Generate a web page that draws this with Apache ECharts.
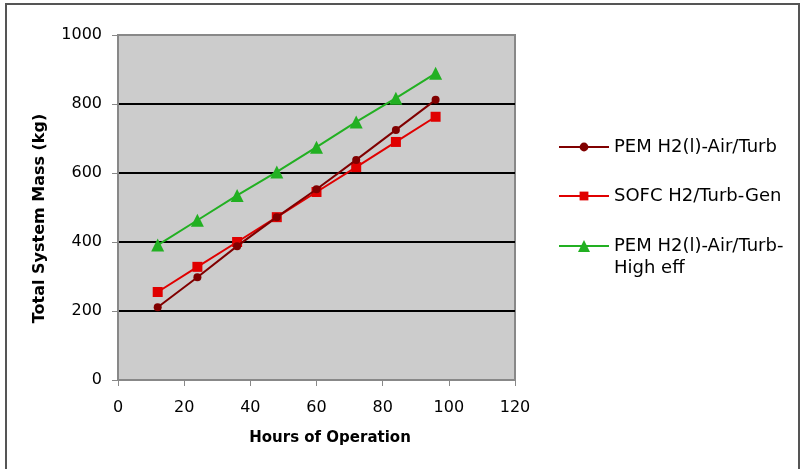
<!DOCTYPE html>
<html>
<head>
<meta charset="utf-8">
<script src="https://cdn.jsdelivr.net/npm/echarts@6/dist/echarts.min.js"></script>
<style>
  html, body { margin: 0; padding: 0; background: #fff; }
  #massline { width: 804px; height: 469px; }
</style>
</head>
<body>
<div id="massline"></div>
<script>
// hours of operation vs total system mass
var hours = [12, 24, 36, 48, 60, 72, 84, 96];
var pemAirTurb = [211, 298, 388, 472, 553, 638, 725, 812];
var sofcTurbGen = [255, 328, 400, 472, 545, 617, 690, 763];
var pemHighEff = [391, 463, 535, 603, 675, 748, 817, 889];
var seriesNames = ['PEM H2(l)-Air/Turb', 'SOFC H2/Turb-Gen', 'PEM H2(l)-Air/Turb-\nHigh eff'];

function pairs(vals) {
    return hours.map(function (h, i) { return [h, vals[i]]; });
}

var legendText = { fontSize: 18, color: '#000', fontFamily: 'DejaVu Sans', lineHeight: 22 };

var massline = echarts.init(document.getElementById('massline'));
var massoption = {
    animation: false,
    textStyle: { fontFamily: 'DejaVu Sans' },
    graphic: [{
        type: 'rect',
        shape: { x: 6, y: 4, width: 793, height: 480 },
        style: { fill: 'none', stroke: '#555', lineWidth: 2 },
        z: -1
    }],
    legend: [{
        orient: 'vertical',
        left: 558,
        top: 136,
        padding: 0,
        itemWidth: 50,
        itemHeight: 11,
        itemGap: 27,
        textStyle: legendText,
        data: [seriesNames[0], seriesNames[1]]
    }, {
        // wrapped label: blank first line keeps the icon level with "PEM..."
        orient: 'vertical',
        left: 558,
        top: 213,
        padding: 0,
        itemWidth: 50,
        itemHeight: 15,
        textStyle: legendText,
        formatter: function (name) { return '\n' + name; },
        data: [seriesNames[2]]
    }],
    grid: {
        left: 118,
        right: 289,
        top: 35,
        bottom: 89,
        show: true,
        backgroundColor: '#cccccc',
        borderColor: '#888',
        borderWidth: 2
    },
    xAxis: {
        type: 'value',
        min: 0,
        max: 120,
        interval: 20,
        name: 'Hours of Operation',
        nameLocation: 'middle',
        nameGap: 51,
        nameTextStyle: { fontSize: 15, fontWeight: 'bold', color: '#000', padding: [0, 0, 0, 27] },
        axisLine: { lineStyle: { color: '#888', width: 2 } },
        axisTick: { show: true, length: 6, lineStyle: { color: '#888' } },
        axisLabel: { fontSize: 16, color: '#000', margin: 20 },
        splitLine: { show: false }
    },
    yAxis: {
        type: 'value',
        min: 0,
        max: 1000,
        interval: 200,
        name: 'Total System Mass (kg)',
        nameLocation: 'middle',
        nameGap: 70,
        nameTextStyle: { fontSize: 16, fontWeight: 'bold', color: '#000', padding: [0, 22, 0, 0] },
        axisLine: { show: true, lineStyle: { color: '#888', width: 2 } },
        axisTick: { show: true, length: 6, lineStyle: { color: '#888' } },
        axisLabel: {
            fontSize: 16,
            color: '#000',
            margin: 16,
            formatter: function (v) { return String(v); }
        },
        splitLine: {
            show: true,
            showMinLine: false,
            showMaxLine: false,
            lineStyle: { color: '#000', width: 2 }
        }
    },
    series: [{
        name: seriesNames[0],
        type: 'line',
        data: pairs(pemAirTurb),
        symbol: 'circle',
        symbolSize: 8,
        color: '#800000',
        lineStyle: { width: 2 },
        z: 4
    }, {
        name: seriesNames[1],
        type: 'line',
        data: pairs(sofcTurbGen),
        symbol: 'rect',
        symbolSize: 10,
        color: '#e00000',
        lineStyle: { width: 2 },
        z: 3
    }, {
        name: seriesNames[2],
        type: 'line',
        data: pairs(pemHighEff),
        symbol: 'triangle',
        symbolSize: 13,
        color: '#22b022',
        lineStyle: { width: 2 },
        z: 2
    }]
};
massline.setOption(massoption);
</script>
</body>
</html>
